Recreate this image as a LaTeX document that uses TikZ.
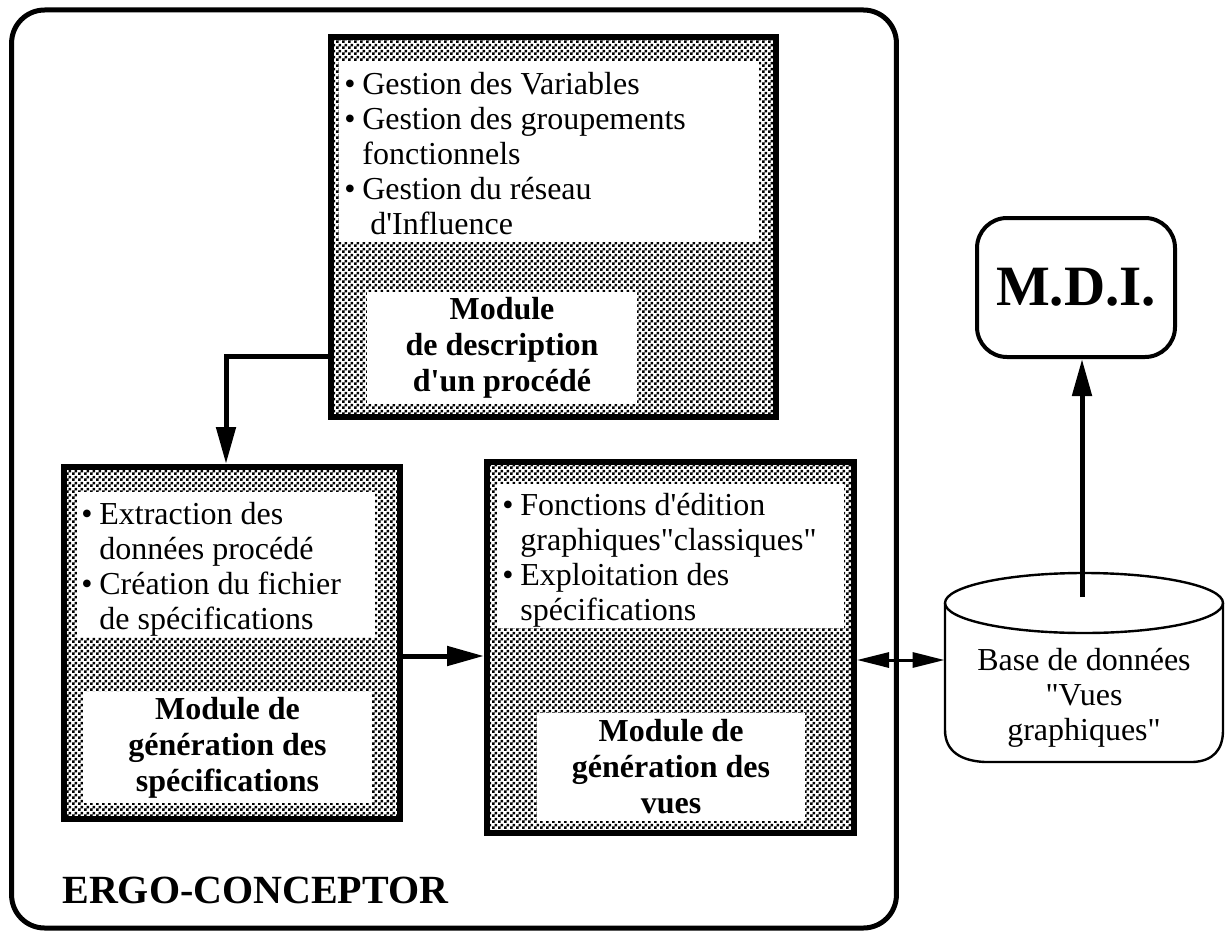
\documentclass[tikz,border=0pt]{standalone}
\usepackage{fontspec}
\setmainfont{Liberation Serif}[Ligatures=TeXOff]
\usepackage{tikz}
\usetikzlibrary{arrows.meta,positioning,patterns}
\pgfdeclarepatternformonly{dither}{\pgfpointorigin}{\pgfqpoint{3pt}{3pt}}{\pgfqpoint{3pt}{3pt}}{%
  \pgfpathrectangle{\pgfpointorigin}{\pgfqpoint{1.5pt}{1.5pt}}%
  \pgfpathrectangle{\pgfqpoint{1.5pt}{1.5pt}}{\pgfqpoint{1.5pt}{1.5pt}}%
  \pgfusepath{fill}}
\newcommand{\puce}{\makebox[9pt][l]{\textbullet}}
\newcommand{\suite}{\hspace*{9pt}}

\begin{document}
\begin{tikzpicture}[x=0.5pt,y=-0.5pt,
  modbox/.style={draw,line width=3pt,pattern=dither,inner sep=0},
  pane/.style={fill=white,inner sep=0},
  items/.style={anchor=north west,align=left,inner sep=0,font=\fontsize{16}{17.5}\selectfont},
  lbl/.style={pane,align=center,font=\bfseries\fontsize{16}{18}\selectfont},
  conn/.style={line width=2.5pt,-{Triangle[length=18.5pt,width=9.5pt]}},
  dbl/.style={line width=1.5pt,{Triangle[length=16pt,width=7.5pt]}-{Triangle[length=16pt,width=7.5pt]}}]
  \useasboundingbox (0,0) rectangle (1225,931);

  \node[draw,line width=2.5pt,rounded corners=16.5pt,minimum width=442.4pt,minimum height=459pt] (ergo) at (454,469) {};
  \node[anchor=base west,inner sep=0,font=\bfseries\fontsize{20}{22}\selectfont] (ergolbl) at (62,903) {ERGO-CONCEPTOR};

  \node[modbox,minimum width=222.5pt,minimum height=190pt] (desc) at (553.5,227) {};
  \node[pane,minimum width=210pt,minimum height=90.5pt] (descpane) at (549,151.5) {};
  \node[items] (desctxt) at (344,72) {\puce Gestion des Variables\\\puce Gestion des groupements\\\suite fonctionnels\\\puce Gestion du réseau\\\suite\hspace*{4pt}d'Influence};
  \node[lbl,minimum width=135pt,minimum height=56pt] (desclbl) at (502,348) {Module\\de description\\d'un procédé};

  \node[modbox,minimum width=168pt,minimum height=176pt] (spec) at (232,643) {};
  \node[pane,minimum width=149pt,minimum height=72.5pt] (specpane) at (226,564.5) {};
  \node[items] (spectxt) at (81,502) {\puce Extraction des\\\suite données procédé\\\puce Création du fichier\\\suite de spécifications};
  \node[lbl,minimum width=144.5pt,minimum height=55.5pt] (speclbl) at (227.5,747.5) {Module de\\génération des\\spécifications};

  \node[modbox,minimum width=183.5pt,minimum height=185.5pt] (vues) at (670.5,647.5) {};
  \node[pane,minimum width=173.5pt,minimum height=72pt] (vuespane) at (670.5,556) {};
  \node[items] (vuestxt) at (502,493) {\puce Fonctions d'édition\\\suite graphiques"classiques"\\\puce Exploitation des\\\suite spécifications};
  \node[lbl,minimum width=134pt,minimum height=54pt] (vueslbl) at (671,767) {Module de\\génération des\\vues};

  \node[draw,line width=2pt,rounded corners=15pt,minimum width=99pt,minimum height=69.5pt,font=\bfseries\fontsize{28.5}{30}\selectfont] (mdi) at (1076,287.5) {M.D.I.};

  \draw[line width=1.2pt] (945,603) -- (945,730) .. controls (945,752) and (962,761) .. (985,762) -- (1193,762) .. controls (1213,761) and (1223,750) .. (1223,730) -- (1223,603);
  \draw[line width=1.2pt] (1084,603) ellipse [x radius=69.5pt,y radius=15pt];
  \node[align=center,inner sep=0,minimum width=139pt,minimum height=64.5pt,font=\fontsize{16}{17.5}\selectfont] (base) at (1084,697.5) {Base de données\\"Vues\\graphiques"};

  \coordinate (kink) at (226,356);
  \coordinate (lvl1) at (440,656);
  \coordinate (lvl2) at (900,660);
  \coordinate (dbtop) at (1082,597);
  \draw[conn] (kink -| desc.west) -- (kink) -- (kink |- spec.north);
  \draw[conn] (lvl1 -| spec.east) -- (lvl1 -| vues.west);
  \draw[dbl] (lvl2 -| vues.east) -- (lvl2 -| base.west);
  \draw[conn] (dbtop) -- (dbtop |- mdi.south);
\end{tikzpicture}
\end{document}
